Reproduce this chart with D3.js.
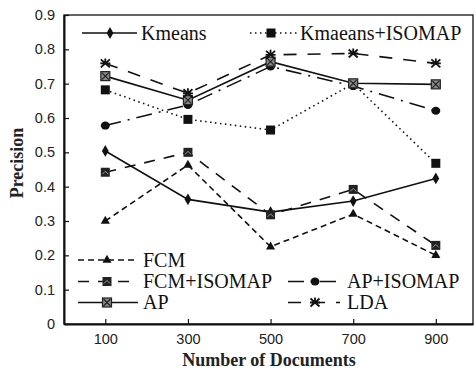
<!DOCTYPE html>
<html>
<head>
<meta charset="utf-8">
<script src="https://cdn.jsdelivr.net/npm/d3@7"></script>
<style>
  body { margin: 0; background: #fff; }
  svg { display: block; }
</style>
</head>
<body>
<div id="chart"></div>
<script>
  // values
  var docs = [100, 300, 500, 700, 900];
  var yTicks = [0, 0.1, 0.2, 0.3, 0.4, 0.5, 0.6, 0.7, 0.8, 0.9];
  var kmeans = [0.504, 0.363, 0.326, 0.358, 0.424];
  var kmeansIsomap = [0.682, 0.596, 0.565, 0.700, 0.468];
  var fcm = [0.300, 0.463, 0.225, 0.320, 0.200];
  var fcmIsomap = [0.442, 0.500, 0.318, 0.392, 0.229];
  var apIsomap = [0.578, 0.638, 0.750, 0.693, 0.621];
  var ap = [0.722, 0.652, 0.764, 0.701, 0.698];
  var lda = [0.759, 0.672, 0.784, 0.788, 0.759];

  (function() {
    'use strict';

    var width = 476;
    var height = 373;
    var plotLeft = 64, plotRight = 473, plotTop = 15, plotBottom = 324;
    var serif = '"Liberation Serif", "Times New Roman", serif';
    var sans = '"Liberation Sans", Arial, sans-serif';

    var x = d3.scaleLinear().domain([0, 990]).range([plotLeft, plotRight]);
    var y = d3.scaleLinear().domain([0, 0.9]).range([plotBottom, plotTop]);

    var svg = d3.select('#chart').append('svg')
      .attr('width', width)
      .attr('height', height);

    var series = [
      { name: 'Kmeans', values: kmeans, dash: null, marker: 'diamond' },
      { name: 'Kmaeans+ISOMAP', values: kmeansIsomap, dash: '1.5,3.5', marker: 'square' },
      { name: 'FCM', values: fcm, dash: '6,4', marker: 'triangle' },
      { name: 'FCM+ISOMAP', values: fcmIsomap, dash: '11,9', marker: 'squareTri' },
      { name: 'AP+ISOMAP', values: apIsomap, dash: '16,7,2,7', marker: 'circle' },
      { name: 'AP', values: ap, dash: null, marker: 'squareX' },
      { name: 'LDA', values: lda, dash: '13,11', marker: 'star' }
    ];

    function drawMarker(g, type, cx, cy) {
      var m = g.append('g').attr('transform', 'translate(' + cx + ',' + cy + ')');
      if (type === 'diamond') {
        m.append('path').attr('d', d3.symbol(d3.symbolDiamond, 40)()).attr('fill', '#111');
      } else if (type === 'square') {
        m.append('rect').attr('x', -4.5).attr('y', -4.5).attr('width', 9).attr('height', 9).attr('fill', '#111');
      } else if (type === 'triangle') {
        m.append('path').attr('d', d3.symbol(d3.symbolTriangle, 36)()).attr('fill', '#111');
      } else if (type === 'squareTri') {
        m.append('rect').attr('x', -4.5).attr('y', -4.5).attr('width', 9).attr('height', 9).attr('fill', '#222');
        m.append('path').attr('d', 'M-3,2L0,-1L3,2').attr('fill', 'none').attr('stroke', '#999').attr('stroke-width', 1);
      } else if (type === 'circle') {
        m.append('ellipse').attr('rx', 4.5).attr('ry', 4).attr('fill', '#111');
      } else if (type === 'squareX') {
        m.append('rect').attr('x', -4.5).attr('y', -4.5).attr('width', 9).attr('height', 9)
          .attr('fill', '#888').attr('stroke', '#222').attr('stroke-width', 1.2);
        m.append('path').attr('d', 'M-3.5,-3.5L3.5,3.5M3.5,-3.5L-3.5,3.5').attr('stroke', '#222').attr('stroke-width', 1.2);
      } else if (type === 'star') {
        m.append('path').attr('d', 'M-4.5,-4L4.5,4M4.5,-4L-4.5,4M-5,0L5,0M0,-5L0,-1')
          .attr('stroke', '#111').attr('stroke-width', 1.8).attr('fill', 'none');
      }
    }

    // frame
    svg.append('rect')
      .attr('x', plotLeft).attr('y', plotTop)
      .attr('width', plotRight - plotLeft).attr('height', plotBottom - plotTop)
      .attr('fill', 'none').attr('stroke', '#111').attr('stroke-width', 1.3);

    // y axis
    var yAxis = svg.append('g')
      .attr('transform', 'translate(' + plotLeft + ',0)')
      .call(d3.axisLeft(y).tickValues(yTicks).tickSizeInner(-5).tickSizeOuter(0)
        .tickFormat(function(d) { return d === 0 ? '0' : d3.format('.1f')(d); }));
    yAxis.select('.domain').attr('stroke', '#111').attr('stroke-width', 2);
    yAxis.selectAll('.tick line').attr('stroke', '#111').attr('stroke-width', 1.2);
    yAxis.selectAll('.tick text')
      .attr('x', -9)
      .style('font-family', sans)
      .style('font-size', '14.5px')
      .attr('fill', '#222');

    // x axis
    var xAxis = svg.append('g')
      .attr('transform', 'translate(0,' + plotBottom + ')')
      .call(d3.axisBottom(x).tickValues(docs).tickSizeInner(-5).tickSizeOuter(0));
    xAxis.select('.domain').attr('stroke', '#111').attr('stroke-width', 2);
    xAxis.selectAll('.tick line').attr('stroke', '#111').attr('stroke-width', 1.2);
    xAxis.selectAll('.tick text')
      .attr('y', 10)
      .style('font-family', sans)
      .style('font-size', '14.5px')
      .attr('fill', '#222');

    // axis titles
    svg.append('text')
      .attr('x', 269).attr('y', 366)
      .attr('text-anchor', 'middle')
      .style('font-family', serif)
      .style('font-size', '18px')
      .style('font-weight', 'bold')
      .attr('fill', '#222')
      .text('Number of Documents');

    svg.append('text')
      .attr('transform', 'translate(23,163) rotate(-90)')
      .attr('text-anchor', 'middle')
      .style('font-family', serif)
      .style('font-size', '18px')
      .style('font-weight', 'bold')
      .attr('fill', '#222')
      .text('Precision');

    // lines
    var line = d3.line()
      .x(function(d, i) { return x(docs[i]); })
      .y(function(d) { return y(d); });

    var plot = svg.append('g');
    series.forEach(function(s) {
      plot.append('path')
        .datum(s.values)
        .attr('d', line)
        .attr('fill', 'none')
        .attr('stroke', '#111')
        .attr('stroke-width', 1.6)
        .attr('stroke-dasharray', s.dash);
    });
    series.forEach(function(s) {
      s.values.forEach(function(v, i) {
        drawMarker(plot, s.marker, x(docs[i]), y(v));
      });
    });

    // legend
    var legendPos = {
      'Kmeans': { x1: 82, x2: 137, mx: 110, ty: 40, ly: 33, tx: 141 },
      'Kmaeans+ISOMAP': { x1: 250, x2: 297, mx: 271, ty: 40, ly: 33, tx: 300 },
      'FCM': { x1: 78, x2: 138, mx: 107, ty: 267, ly: 260, tx: 143 },
      'FCM+ISOMAP': { x1: 78, x2: 138, mx: 107, ty: 288, ly: 281.5, tx: 143 },
      'AP': { x1: 78, x2: 138, mx: 107, ty: 309, ly: 302.5, tx: 143 },
      'AP+ISOMAP': { x1: 288, x2: 338, mx: 315, ty: 288, ly: 281.5, tx: 347 },
      'LDA': { x1: 288, x2: 340, mx: 315, ty: 309, ly: 302.5, tx: 347 }
    };

    var legend = svg.append('g');
    series.forEach(function(s) {
      var p = legendPos[s.name];
      legend.append('line')
        .attr('x1', p.x1).attr('x2', p.x2)
        .attr('y1', p.ly).attr('y2', p.ly)
        .attr('stroke', '#111')
        .attr('stroke-width', 1.6)
        .attr('stroke-dasharray', s.dash);
      drawMarker(legend, s.marker, p.mx, p.ly);
      legend.append('text')
        .attr('x', p.tx).attr('y', p.ty)
        .style('font-family', serif)
        .style('font-size', '20px')
        .attr('fill', '#111')
        .text(s.name);
    });
  })();
</script>
</body>
</html>
